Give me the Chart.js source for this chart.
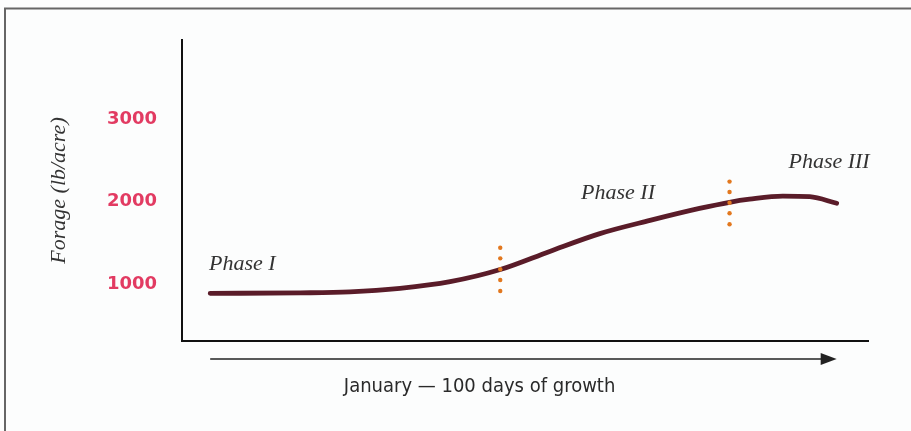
<!DOCTYPE html>
<html><head><meta charset="utf-8">
<script src="https://cdn.jsdelivr.net/npm/chart.js@4/dist/chart.umd.min.js"></script>
<style>html,body{margin:0;padding:0;background:#fcfdfd;}#wrap{width:911px;height:431px;position:relative;}</style>
</head><body><div id="wrap"><canvas id="c" width="911" height="431"></canvas></div>
<script>
// ---- data ----
const growthDays = [0, 14.4, 22.3, 30.3, 38.3, 46.3, 54.2, 62.2, 70.2, 78.1, 82.9, 86.1, 91.4, 95.7, 100];
const forageLb   = [887, 893, 905, 948, 1028, 1175, 1395, 1610, 1770, 1915, 1990, 2027, 2065, 2058, 1978];
const boundaryDays = [46.3, 82.9];
const boundaryDotsA = [1440, 1311, 1178, 1048, 915];
const boundaryDotsB = [2240, 2115, 1985, 1857, 1724];
const yTickValues = [1000, 2000, 3000];
const yTickLabels = ['1000', '2000', '3000'];
const phaseNames = ['Phase I', 'Phase II', 'Phase III'];
const yTitle = 'Forage (lb/acre)';
const xCaption = 'January \u2014 100 days of growth';

// annotation anchors (data units)
const phaseAnchors = { day: [-0.2, 59.2, 92.3], lb: [1170, 2030, 2406] };

const decor = {
  id: 'decor',
  beforeDraw(chart) {
    const ctx = chart.ctx;
    ctx.save();
    ctx.fillStyle = '#fcfdfd';
    ctx.fillRect(0, 0, chart.width, chart.height);
    ctx.strokeStyle = '#666';
    ctx.lineWidth = 2;
    ctx.beginPath();
    ctx.moveTo(5, chart.height);
    ctx.lineTo(5, 8.5);
    ctx.lineTo(chart.width, 8.5);
    ctx.stroke();
    ctx.restore();
  },
  afterDraw(chart) {
    const { ctx, scales: { x, y }, chartArea } = chart;
    ctx.save();
    // arrow under axis
    const x0 = x.getPixelForValue(0), x1 = x.getPixelForValue(100);
    const ay = chartArea.bottom + 18;
    ctx.strokeStyle = '#222';
    ctx.fillStyle = '#222';
    ctx.lineWidth = 1.6;
    ctx.beginPath();
    ctx.moveTo(x0, ay);
    ctx.lineTo(x1 - 12, ay);
    ctx.stroke();
    ctx.beginPath();
    ctx.moveTo(x1 - 16, ay - 6);
    ctx.lineTo(x1, ay);
    ctx.lineTo(x1 - 16, ay + 6);
    ctx.closePath();
    ctx.fill();
    // caption
    ctx.font = '20px "DejaVu Sans Condensed", "DejaVu Sans", sans-serif';
    ctx.textAlign = 'center';
    ctx.textBaseline = 'alphabetic';
    ctx.fillStyle = '#2a2a2a';
    ctx.fillText(xCaption, x.getPixelForValue(43), ay + 33);
    // phase labels
    ctx.font = 'italic 22px "Liberation Serif", serif';
    ctx.textAlign = 'left';
    ctx.fillStyle = '#333';
    phaseNames.forEach((n, i) => {
      ctx.fillText(n, x.getPixelForValue(phaseAnchors.day[i]), y.getPixelForValue(phaseAnchors.lb[i]));
    });
    ctx.restore();
  }
};

new Chart(document.getElementById('c'), {
  type: 'line',
  data: {
    datasets: [
      {
        data: growthDays.map((d, i) => ({ x: d, y: forageLb[i] })),
        borderColor: '#5a1c29',
        borderWidth: 4.8,
        borderCapStyle: 'round',
        pointRadius: 0,
        cubicInterpolationMode: 'monotone',
        fill: false,
        order: 2
      },
      {
        type: 'scatter',
        data: boundaryDotsA.map(v => ({ x: boundaryDays[0], y: v })),
        pointRadius: 2.2,
        pointBorderWidth: 0,
        backgroundColor: '#e2781f',
        showLine: false,
        order: 1
      },
      {
        type: 'scatter',
        data: boundaryDotsB.map(v => ({ x: boundaryDays[1], y: v })),
        pointRadius: 2.2,
        pointBorderWidth: 0,
        backgroundColor: '#e2781f',
        showLine: false,
        order: 1
      }
    ]
  },
  options: {
    responsive: false,
    animation: false,
    devicePixelRatio: 1,
    layout: { padding: { top: 40, right: 43, left: 0, bottom: 0 } },
    plugins: { legend: { display: false }, tooltip: { enabled: false } },
    scales: {
      x: {
        type: 'linear',
        min: -4.5,
        max: 105,
        grid: { display: false },
        border: { display: true, color: '#111', width: 2 },
        ticks: { display: false },
        afterFit(s) { s.height = 90; }
      },
      y: {
        type: 'linear',
        min: 310,
        max: 3955,
        grid: { display: false, drawTicks: false },
        border: { display: true, color: '#111', width: 2 },
        afterBuildTicks(s) { s.ticks = yTickValues.map(v => ({ value: v })); },
        ticks: {
          padding: 25,
          color: '#e23b62',
          font: { family: 'DejaVu Sans', weight: 'bold', size: 18 },
          callback: (v) => yTickLabels[yTickValues.indexOf(v)]
        },
        title: {
          display: true,
          text: yTitle,
          color: '#333',
          font: { family: 'Liberation Serif', style: 'italic', size: 22 },
          padding: { top: 46, bottom: 0 }
        },
        afterFit(s) { s.width = 182; }
      }
    }
  },
  plugins: [decor]
});
</script>
</body></html>
